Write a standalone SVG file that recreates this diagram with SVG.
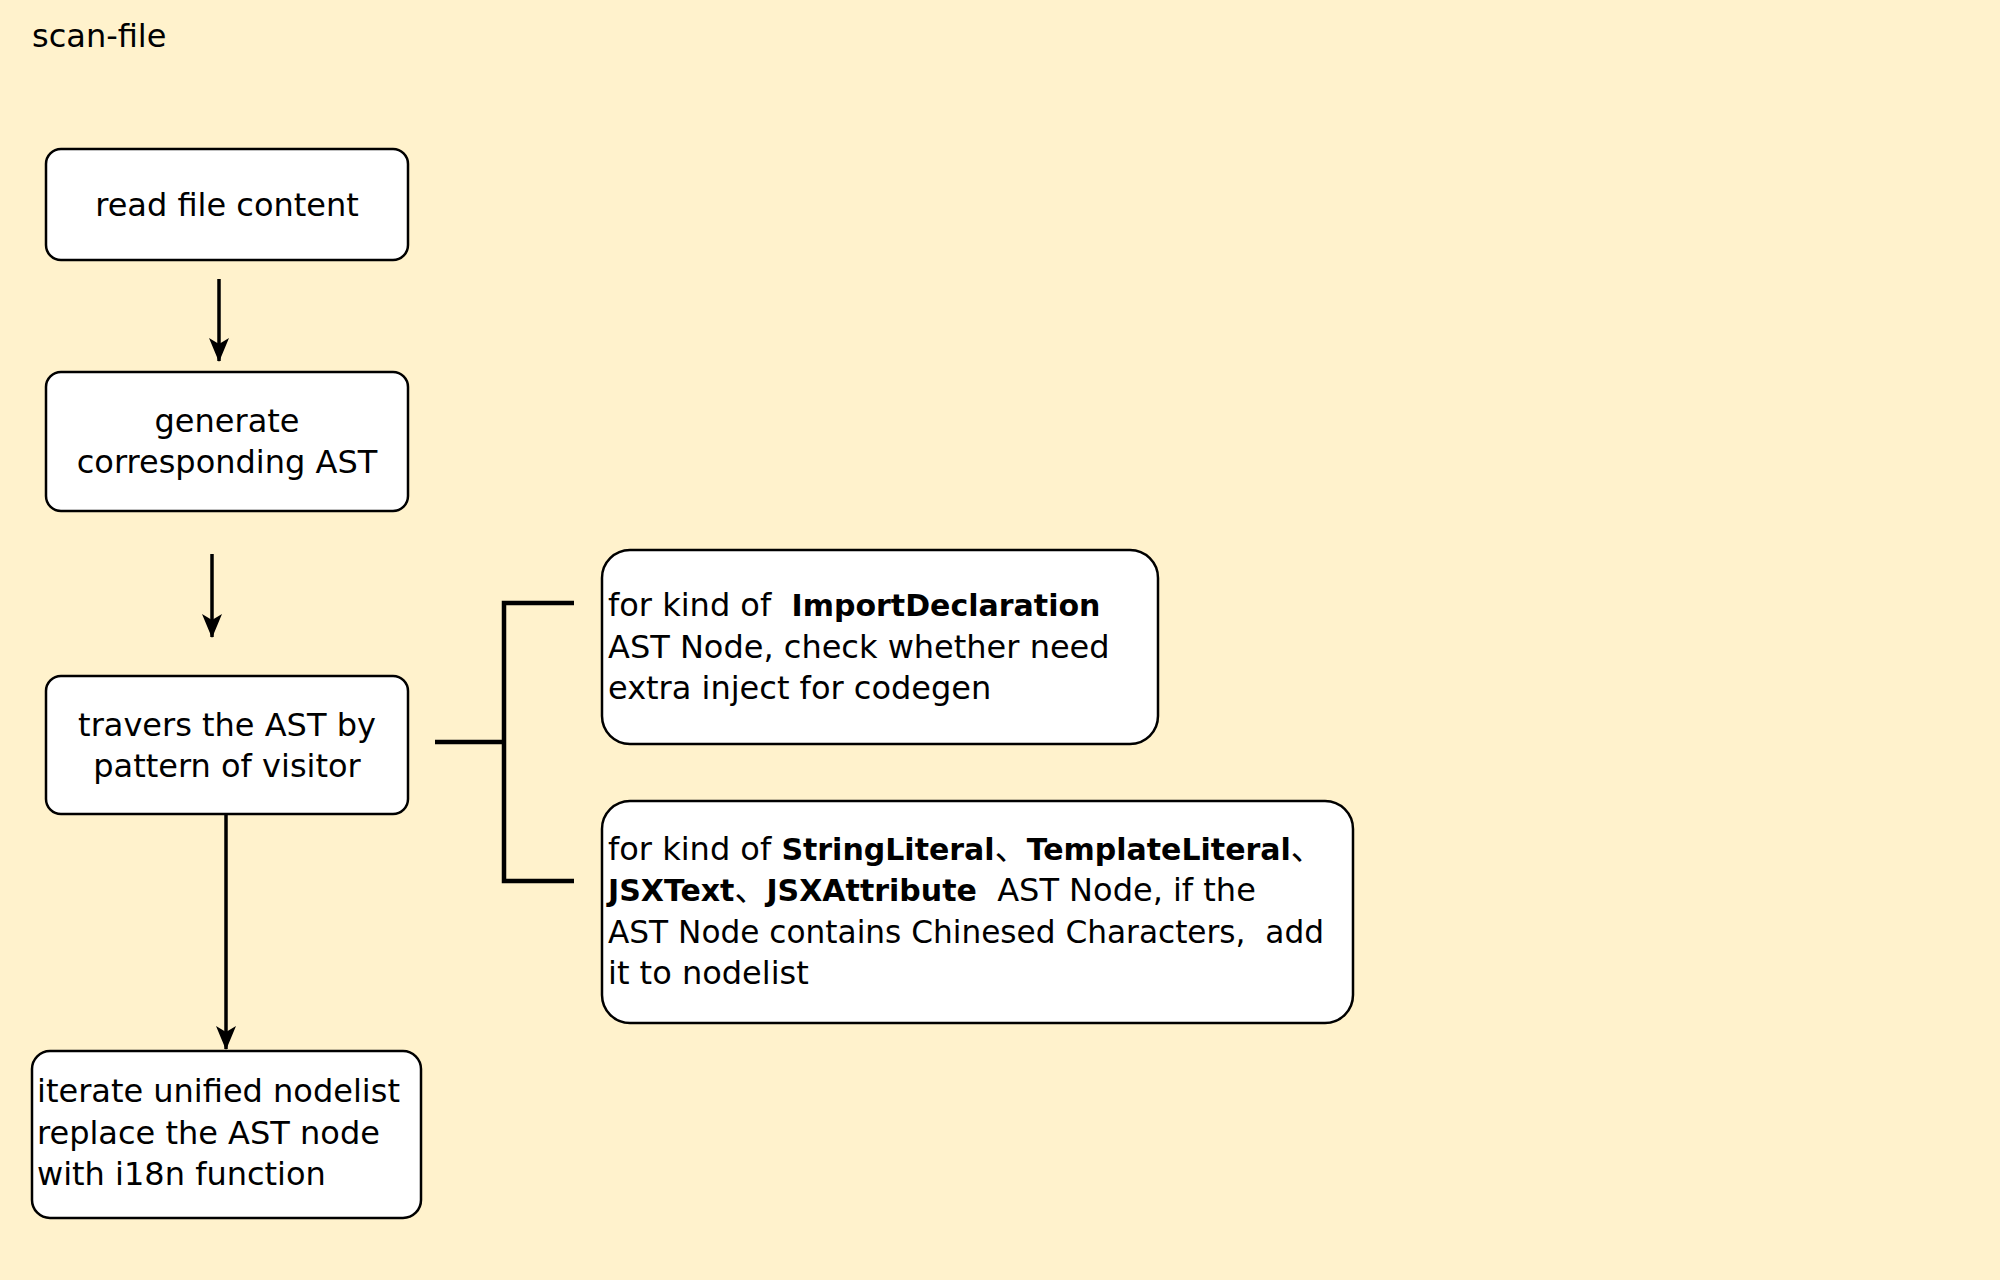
<svg xmlns="http://www.w3.org/2000/svg" width="2000" height="1280" viewBox="0 0 2000 1280">
<style>
.box{fill:#fff;stroke:#000;stroke-width:2.5}
.t{font-family:"DejaVu Sans","Noto Sans CJK SC",sans-serif;font-size:32px;fill:#000}
.c{text-anchor:middle}
.b{font-weight:bold;font-size:30px}
.conn{fill:none;stroke:#000;stroke-width:3.5}
.br{fill:none;stroke:#000;stroke-width:4.5}
</style>
<defs>
<marker id="arr" viewBox="0 0 24 20" refX="23" refY="10" markerWidth="24" markerHeight="20" markerUnits="userSpaceOnUse" orient="auto">
<path d="M0,0 L24,10 L0,20 L6,10 Z" fill="#000"/>
</marker>
</defs>
<rect width="2000" height="1280" fill="#FFF2CC"/>
<text class="t" x="32" y="47">scan-file</text>
<g id="n1">
<rect class="box" x="46" y="149" width="362" height="111" rx="15"/>
<text class="t c" x="227" y="216">read file content</text>
</g>
<g id="n2">
<rect class="box" x="46" y="372" width="362" height="139" rx="15"/>
<text class="t c" x="227" y="432">generate</text>
<text class="t c" x="227" y="473">corresponding AST</text>
</g>
<g id="n3">
<rect class="box" x="46" y="676" width="362" height="138" rx="15"/>
<text class="t c" x="227" y="736">travers the AST by</text>
<text class="t c" x="227" y="777">pattern of visitor</text>
</g>
<g id="n4">
<rect class="box" x="32" y="1051" width="389" height="167" rx="18"/>
<text class="t" x="37" y="1102">iterate unified nodelist</text>
<text class="t" x="37" y="1144">replace the AST node</text>
<text class="t" x="37" y="1185">with i18n function</text>
</g>
<g id="n5">
<rect class="box" x="602" y="550" width="556" height="194" rx="28"/>
<text class="t" x="608" y="616" xml:space="preserve">for kind of  <tspan class="b">ImportDeclaration</tspan></text>
<text class="t" x="608" y="658">AST Node, check whether need</text>
<text class="t" x="608" y="699">extra inject for codegen</text>
</g>
<g id="n6">
<rect class="box" x="602" y="801" width="751" height="222" rx="28"/>
<text class="t" x="608" y="860" xml:space="preserve">for kind of <tspan class="b">StringLiteral</tspan>、<tspan class="b">TemplateLiteral</tspan>、</text>
<text class="t" x="608" y="901" xml:space="preserve"><tspan class="b">JSXText</tspan>、<tspan class="b">JSXAttribute</tspan>  AST Node, if the</text>
<text class="t" x="608" y="943" xml:space="preserve" textLength="716" lengthAdjust="spacingAndGlyphs">AST Node contains Chinesed Characters,  add</text>
<text class="t" x="608" y="984">it to nodelist</text>
</g>
<g id="connectors">
<line class="conn" x1="219" y1="279" x2="219" y2="361" marker-end="url(#arr)"/>
<line class="conn" x1="212" y1="554" x2="212" y2="637" marker-end="url(#arr)"/>
<line class="conn" x1="226" y1="814" x2="226" y2="1049" marker-end="url(#arr)"/>
<path class="br" d="M435,742 H504 M574,603 H504 V881 H574"/>
</g>
</svg>
